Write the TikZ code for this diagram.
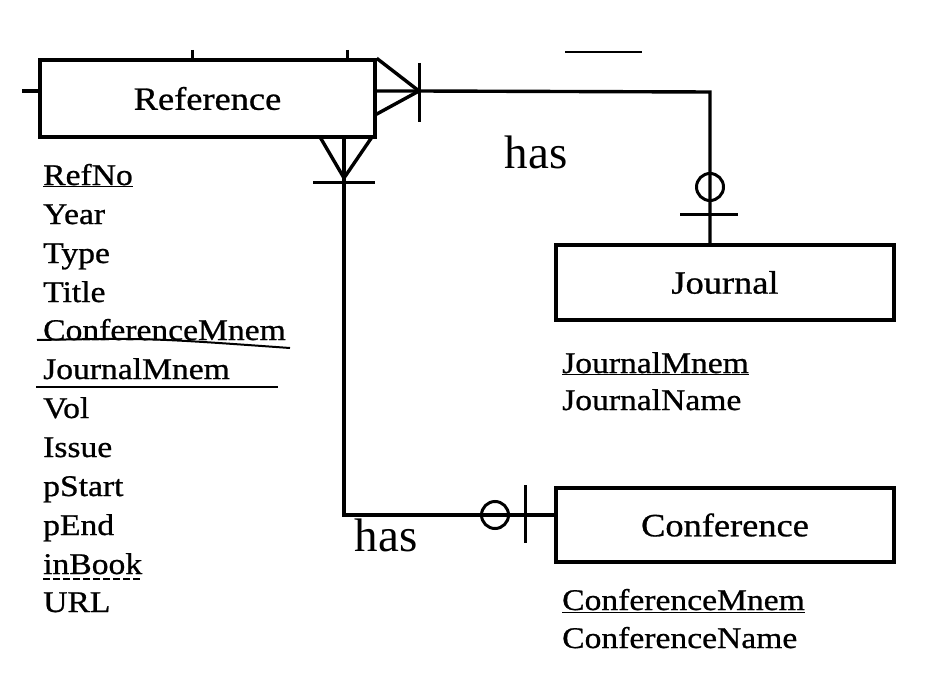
\documentclass[tikz,border=0pt]{standalone}
\usepackage{fontspec}
\setmainfont[FakeStretch=1.12, FakeBold=0.8]{Liberation Serif}
\newfontfamily\hasfont{Liberation Serif}
\usepackage{tikz}
\usetikzlibrary{shapes.geometric, arrows, positioning, fit}

\tikzset{
    entity/.style={draw, rectangle, line width=3.4pt, minimum width=338pt, minimum height=76pt, font=\fontsize{32.5}{36}\selectfont},
    attr/.style={anchor=base west, inner sep=0pt, font=\fontsize{30}{34}\selectfont},
    rel/.style={line width=3.4pt},
    tick/.style={line width=3pt},
    hastext/.style={font=\hasfont\fontsize{47}{50}\selectfont}
}

\begin{document}
\begin{tikzpicture}[x=1pt, y=-1pt]
    \useasboundingbox (0,0) rectangle (936,682);

    \node[entity, minimum width=335pt, minimum height=77pt] (ref) at (207.5,98.5) {Reference};
    \node[entity, minimum height=75pt] (jour) at (725,282.5) {Journal};
    \node[entity, minimum height=74pt] (conf) at (725,525) {Conference};

    % attributes
    \node[attr] (refno) at (43,185) {\underline{RefNo}};
    \node[attr] (year) at (43,224) {Year};
    \node[attr] (type) at (43,263) {Type};
    \node[attr] (title) at (43,302) {Title};
    \node[attr] (confmnem) at (43,340) {ConferenceMnem};
    \node[attr] (jourmnem) at (43,379) {JournalMnem};
    \node[attr] (vol) at (43,418) {Vol};
    \node[attr] (issue) at (43,457) {Issue};
    \node[attr] (pstart) at (43,496) {pStart};
    \node[attr] (pend) at (43,535) {pEnd};
    \node[attr] (inbook) at (43,574) {inBook};
    \node[attr] (url) at (43,612) {URL};

    \node[attr] (jmnem) at (562,373) {\underline{JournalMnem}};
    \node[attr] (jname) at (562,410) {JournalName};
    \node[attr] (cmnem) at (562,610) {\underline{ConferenceMnem}};
    \node[attr] (cname) at (562,648) {ConferenceName};

    \draw[line width=2pt] (37,340) .. controls (150,338) .. (290,348);
    \draw[line width=2pt] (36,387) -- (278,387);
    \draw[line width=1.6pt, dash pattern=on 7pt off 3pt] ([yshift=-5pt]inbook.base west) -- ([yshift=-5pt]inbook.base east);

    % stubs
    \draw[rel] (22,91) -- (ref.west |- 0,91);
    \draw[tick] (192,50) -- (192,60);
    \draw[tick] (347,50) -- (347,60);
    \draw[line width=2.2pt] (565,52) -- (642,52);

    % Reference -- Journal
    \coordinate (rj) at (419,91);
    \coordinate (jcorner) at (710,92);
    \draw[rel] (ref.east |- rj) -- (rj) -- (jcorner) -- (jour.north -| jcorner);
    \draw[rel] (ref.north east) -- (rj) -- (375,115);
    \draw[tick] (419,63) -- (419,122);
    \node[draw, circle, line width=3pt, minimum width=27pt, minimum height=26pt, inner sep=0pt] (jopt) at (710,187) {};
    \draw[tick] (680,214) -- (738,214);
    \node[hastext] (has1) at (536,152) {has};

    % Reference -- Conference
    \coordinate (rc) at (344,178);
    \coordinate (ccorner) at (344,515);
    \draw[rel] (ref.south -| rc) -- (rc) -- (ccorner) -- (conf.west |- ccorner);
    \draw[rel] (320,137) -- (rc) -- (372,137);
    \draw[tick] (313,182) -- (375,182);
    \node[draw, circle, line width=3pt, minimum width=26pt, minimum height=27pt, inner sep=0pt] (copt) at (495,515) {};
    \draw[tick] (525,485) -- (525,543);
    \node[hastext] (has2) at (386,535) {has};
\end{tikzpicture}
\end{document}
